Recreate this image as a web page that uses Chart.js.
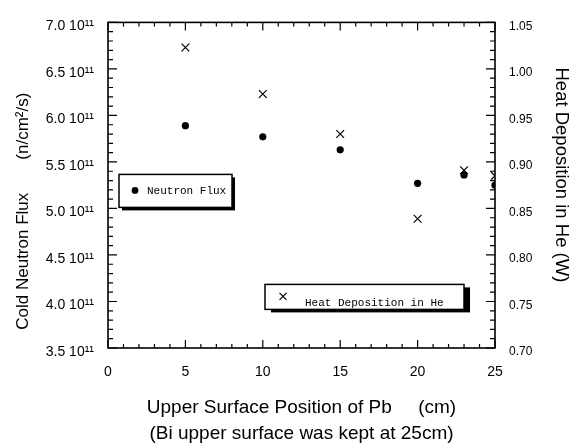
<!DOCTYPE html>
<html>
<head>
<meta charset="utf-8">
<title>Cold neutron flux and heat deposition vs Pb position</title>
<script src="https://cdn.jsdelivr.net/npm/chart.js@4.4.1/dist/chart.umd.min.js"></script>
<style>
  html, body { margin: 0; padding: 0; background: #fff; }
  #wrap { width: 572px; height: 447px; }
</style>
</head>
<body>
<div id="wrap"><canvas id="chart"></canvas></div>
<script>
// Upper surface position of Pb (cm)
const positions = [5, 10, 15, 20, 23, 25];
// Cold neutron flux (n/cm²/s) — left axis
const neutronFlux = [5.89e11, 5.77e11, 5.63e11, 5.27e11, 5.36e11, 5.25e11];
// Heat deposition in He (W) — right axis
const heatDeposition = [1.023, 0.973, 0.930, 0.839, 0.891, 0.885];

// labelled tick values
const xTicks = [0, 5, 10, 15, 20, 25];
const fluxTicks = [3.5e11, 4.0e11, 4.5e11, 5.0e11, 5.5e11, 6.0e11, 6.5e11, 7.0e11];
const heatTicks = [0.70, 0.75, 0.80, 0.85, 0.90, 0.95, 1.00, 1.05];

const SANS = "'Liberation Sans', Arial, sans-serif";
const MONO = "'Liberation Mono', 'DejaVu Sans Mono', monospace";

// frame with inward ticks on all four sides (minor every step, major every 5th)
const sideTicks = {
    id: 'sideTicks',
    beforeDatasetsDraw(chart) {
        const { ctx, chartArea: { left, right, top, bottom }, scales } = chart;
        ctx.save();
        ctx.strokeStyle = '#000';
        ctx.lineWidth = 1.6;
        ctx.strokeRect(left, top, right - left, bottom - top);
        ctx.lineWidth = 1.2;
        ctx.beginPath();
        for (let v = 0; v <= 25; v++) {
            const px = scales.x.getPixelForValue(v);
            const len = v % 5 === 0 ? 8 : 4;
            ctx.moveTo(px, bottom); ctx.lineTo(px, bottom - len);
            ctx.moveTo(px, top); ctx.lineTo(px, top + len);
        }
        for (let i = 0; i <= 35; i++) {
            const py = scales.y.getPixelForValue(3.5e11 + i * 0.1e11);
            ctx.moveTo(left, py); ctx.lineTo(left + (i % 5 ? 5 : 9), py);
        }
        for (let i = 0; i <= 35; i++) {
            const py = scales.y1.getPixelForValue(0.70 + i * 0.01);
            ctx.moveTo(right, py); ctx.lineTo(right - (i % 5 ? 5 : 9), py);
        }
        ctx.stroke();
        ctx.restore();
    },
};

// the two shadowed key boxes inside the plot
const boxedKeys = {
    id: 'boxedKeys',
    afterDraw(chart) {
        const { ctx, chartArea: a } = chart;
        const keys = [
            { ds: 0, x: 11, y: 152, w: 113, h: 33, sx: 3, sy: 3, mx: 16, my: 16, tx: 28, ty: 16.5 },
            { ds: 1, x: 157, y: 262, w: 199, h: 25, sx: 6, sy: 3, mx: 18, my: 12, tx: 40, ty: 18.5 },
        ];
        ctx.save();
        keys.forEach(k => {
            const x = a.left + k.x, y = a.top + k.y;
            ctx.fillStyle = '#000';
            ctx.fillRect(x + k.sx, y + k.sy, k.w, k.h);
            ctx.fillStyle = '#fff';
            ctx.fillRect(x, y, k.w, k.h);
            ctx.strokeStyle = '#000';
            ctx.lineWidth = 1.5;
            ctx.strokeRect(x, y, k.w, k.h);

            const mx = x + k.mx, my = y + k.my;
            ctx.fillStyle = '#000';
            if (k.ds === 0) {
                ctx.beginPath();
                ctx.arc(mx, my, 3.4, 0, Math.PI * 2);
                ctx.fill();
            } else {
                ctx.lineWidth = 1.2;
                ctx.beginPath();
                ctx.moveTo(mx - 3.5, my - 3.5); ctx.lineTo(mx + 3.5, my + 3.5);
                ctx.moveTo(mx - 3.5, my + 3.5); ctx.lineTo(mx + 3.5, my - 3.5);
                ctx.stroke();
            }
            ctx.font = '11px ' + MONO;
            ctx.textBaseline = 'middle';
            ctx.textAlign = 'left';
            ctx.fillText(chart.data.datasets[k.ds].label, x + k.tx, y + k.ty);
        });
        ctx.restore();
    },
};

new Chart(document.getElementById('chart'), {
    type: 'scatter',
    data: {
        datasets: [
            {
                label: 'Neutron Flux',
                data: positions.map((x, i) => ({ x, y: neutronFlux[i] })),
                yAxisID: 'y',
                pointStyle: 'circle',
                pointRadius: 3.6,
                backgroundColor: '#000',
                borderColor: '#000',
                borderWidth: 0,
            },
            {
                label: 'Heat Deposition in He',
                data: positions.map((x, i) => ({ x, y: heatDeposition[i] })),
                yAxisID: 'y1',
                pointStyle: 'crossRot',
                pointRadius: 5.5,
                backgroundColor: '#000',
                borderColor: '#000',
                borderWidth: 1.2,
            },
        ],
    },
    options: {
        responsive: true,
        maintainAspectRatio: false,
        animation: false,
        layout: { padding: { top: 15, left: 0, right: 0, bottom: 0 } },
        plugins: { legend: { display: false }, tooltip: { enabled: false } },
        scales: {
            x: {
                type: 'linear',
                position: 'bottom',
                min: 0,
                max: 25,
                afterBuildTicks: s => { s.ticks = xTicks.map(v => ({ value: v })); },
                afterFit: s => { s.height = 99; },
                grid: { display: false, drawTicks: false },
                border: { display: false },
                ticks: { padding: 16, color: '#000', font: { family: SANS, size: 14 } },
                title: {
                    display: true,
                    text: ['Upper Surface Position of Pb     (cm)', '(Bi upper surface was kept at 25cm)'],
                    color: '#000',
                    padding: 0,
                    font: { family: SANS, size: 19, lineHeight: 1.37 },
                },
            },
            y: {
                type: 'linear',
                position: 'left',
                min: 3.5e11,
                max: 7.0e11,
                afterBuildTicks: s => { s.ticks = fluxTicks.map(v => ({ value: v })); },
                afterFit: s => { s.width = 108; },
                grid: { display: false, drawTicks: false },
                border: { display: false },
                ticks: {
                    padding: 14,
                    labelOffset: 4,
                    color: '#000',
                    font: { family: SANS, size: 14 },
                    callback: v => (v / 1e11).toFixed(1) + ' 10\u00b9\u00b9',
                },
                title: {
                    display: true,
                    text: 'Cold Neutron Flux       (n/cm\u00b2/s)           ',
                    color: '#000',
                    padding: { top: 13, bottom: 0 },
                    font: { family: SANS, size: 17 },
                },
            },
            y1: {
                type: 'linear',
                position: 'right',
                min: 0.70,
                max: 1.05,
                afterBuildTicks: s => { s.ticks = heatTicks.map(v => ({ value: v })); },
                afterFit: s => { s.width = 77; },
                grid: { display: false, drawTicks: false },
                border: { display: false },
                ticks: {
                    padding: 14,
                    labelOffset: 4,
                    color: '#000',
                    font: { family: SANS, size: 12 },
                    callback: v => v.toFixed(2),
                },
                title: {
                    display: true,
                    text: 'Heat Deposition in He (W)    ',
                    color: '#000',
                    padding: { top: 0, bottom: 0 },
                    font: { family: SANS, size: 18.5 },
                },
            },
        },
    },
    plugins: [sideTicks, boxedKeys],
});
</script>
</body>
</html>
